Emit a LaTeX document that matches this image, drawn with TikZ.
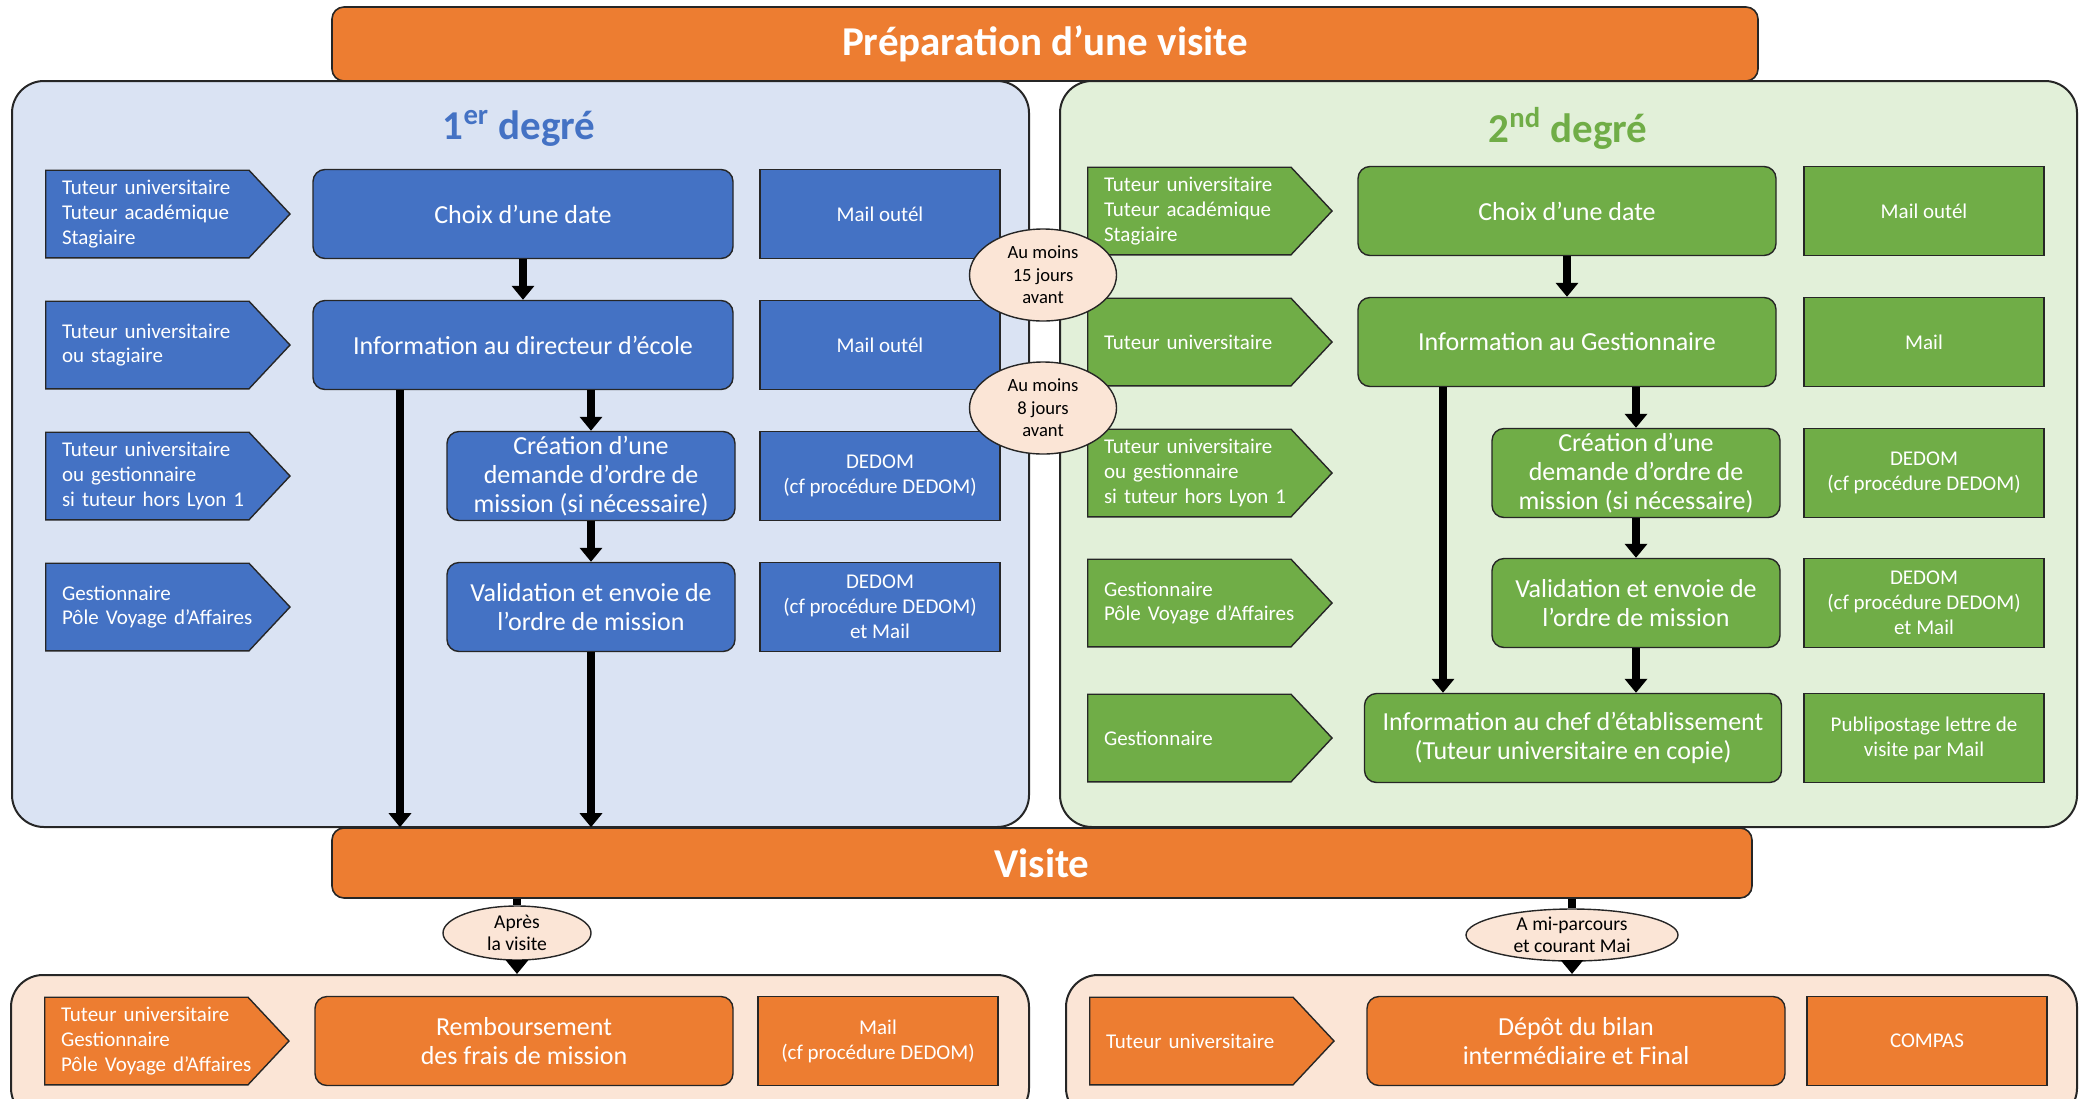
\documentclass[tikz,border=0pt]{standalone}
\usepackage{fontspec}
\setmainfont{Carlito}
\usetikzlibrary{arrows.meta,shapes.geometric,positioning}

\definecolor{blueA}{HTML}{4472C4}
\definecolor{greenA}{HTML}{70AD47}
\definecolor{orangeA}{HTML}{ED7D31}
\definecolor{bluePanel}{HTML}{DAE3F3}
\definecolor{greenPanel}{HTML}{E2F0D9}
\definecolor{peach}{HTML}{FBE5D6}
\definecolor{edge}{HTML}{262626}

\begin{document}
\begin{tikzpicture}[x=0.5pt, y=-0.5pt,
    panel/.style={draw=edge, fill=#1, line width=1pt, rounded corners=16pt, inner sep=0pt},
    bar/.style={draw=edge, fill=orangeA, line width=.8pt, rounded corners=6pt, text=white,
                font=\fontsize{20.5}{24}\selectfont\bfseries},
    task/.style={draw=edge, fill=#1, line width=.7pt, rounded corners=6pt, minimum height=44.5pt,
                 inner ysep=1pt, text=white, align=center, font=\fontsize{13}{14.5}\selectfont},
    tool/.style={draw=edge, fill=#1, line width=.7pt, minimum width=120pt, minimum height=44.5pt,
                 text=white, align=center, font=\fontsize{10.5}{12.5}\selectfont},
    actor/.style={minimum width=123pt, minimum height=44.5pt, text width=106pt, inner xsep=8.5pt,
                  align=left, text=white, font=\fontsize{10.5}{12.3}\selectfont,
                  path picture={\filldraw[fill=#1, draw=edge, line width=.7pt]
                    ([shift={(.35pt,-.35pt)}]path picture bounding box.north west)
                    -- ([shift={(-21pt,-.35pt)}]path picture bounding box.north east)
                    -- ([xshift=-.5pt]path picture bounding box.east)
                    -- ([shift={(-21pt,.35pt)}]path picture bounding box.south east)
                    -- ([shift={(.35pt,.35pt)}]path picture bounding box.south west) -- cycle;}},
    delay/.style={ellipse, draw=edge, fill=peach, line width=.7pt, inner sep=0pt, align=center,
                  font=\fontsize{9.3}{11.2}\selectfont},
    flow/.style={line width=4pt, -{Triangle[width=11pt,length=7pt]}}]
  \useasboundingbox (0,0) rectangle (2080,1098);

  \node[panel=bluePanel, minimum width=508.5pt, minimum height=373pt] (deg1) at (520.5,454) {};
  \node[panel=greenPanel, minimum width=508.5pt, minimum height=373pt] (deg2) at (1568.5,454) {};
  \node[panel=peach, minimum width=509pt, minimum height=72.5pt] (after1) at (520,1047.5) {};
  \node[panel=peach, minimum width=505.5pt, minimum height=72.5pt] (after2) at (1571.5,1047.5) {};

  \node[bar, minimum width=713pt, minimum height=37pt] (prep) at (1045,44) {Préparation d’une visite};
  \node[bar, minimum width=710pt, minimum height=35pt] (visite) at (1042,863) {Visite};

  \node[font=\fontsize{20.5}{24}\selectfont\bfseries, text=blueA] (title1) at (519,128) {1\textsuperscript{er} degré};
  \node[font=\fontsize{20.5}{24}\selectfont\bfseries, text=greenA] (title2) at (1568,128) {2\textsuperscript{nd} degré};

  % 1er degre
  \node[actor=blueA] (who11) at (168,214) {Tuteur universitaire\\Tuteur académique\\Stagiaire};
  \node[task=blueA, minimum width=210pt] (choix1) at (523,214) {Choix d’une date};
  \node[tool=blueA] (how11) at (880,214) {Mail outél};
  \node[actor=blueA] (who12) at (168,345) {Tuteur universitaire\\ou stagiaire};
  \node[task=blueA, minimum width=210pt] (info1) at (523,345) {Information au directeur d’école};
  \node[tool=blueA] (how12) at (880,345) {Mail outél};
  \node[actor=blueA] (who13) at (168,476) {Tuteur universitaire\\ou gestionnaire\\si tuteur hors Lyon 1};
  \node[task=blueA, minimum width=144pt] (crea1) at (591,476) {Création d’une\\demande d’ordre de\\mission (si nécessaire)};
  \node[tool=blueA] (how13) at (880,476) {DEDOM\\(cf procédure DEDOM)};
  \node[actor=blueA] (who14) at (168,607) {Gestionnaire\\Pôle Voyage d’Affaires};
  \node[task=blueA, minimum width=144pt] (valid1) at (591,607) {Validation et envoie de\\l’ordre de mission};
  \node[tool=blueA] (how14) at (880,607) {DEDOM\\(cf procédure DEDOM)\\et Mail};

  % 2nd degre
  \node[actor=greenA] (who21) at (1210,211) {Tuteur universitaire\\Tuteur académique\\Stagiaire};
  \node[task=greenA, minimum width=209pt] (choix2) at (1567,211) {Choix d’une date};
  \node[tool=greenA] (how21) at (1924,211) {Mail outél};
  \node[actor=greenA] (who22) at (1210,342) {Tuteur universitaire};
  \node[task=greenA, minimum width=209pt] (info2) at (1567,342) {Information au Gestionnaire};
  \node[tool=greenA] (how22) at (1924,342) {Mail};
  \node[actor=greenA] (who23) at (1210,473) {Tuteur universitaire\\ou gestionnaire\\si tuteur hors Lyon 1};
  \node[task=greenA, minimum width=144pt] (crea2) at (1636,473) {Création d’une\\demande d’ordre de\\mission (si nécessaire)};
  \node[tool=greenA] (how23) at (1924,473) {DEDOM\\(cf procédure DEDOM)};
  \node[actor=greenA] (who24) at (1210,603) {Gestionnaire\\Pôle Voyage d’Affaires};
  \node[task=greenA, minimum width=144pt] (valid2) at (1636,603) {Validation et envoie de\\l’ordre de mission};
  \node[tool=greenA] (how24) at (1924,603) {DEDOM\\(cf procédure DEDOM)\\et Mail};
  \node[actor=greenA] (who25) at (1210,738) {Gestionnaire};
  \node[task=greenA, minimum width=208.5pt] (chef) at (1573,738) {Information au chef d’établissement\\(Tuteur universitaire en copie)};
  \node[tool=greenA] (how25) at (1924,738) {Publipostage lettre de\\visite par Mail};

  % apres la visite
  \node[actor=orangeA] (who31) at (167,1041) {Tuteur universitaire\\Gestionnaire\\Pôle Voyage d’Affaires};
  \node[task=orangeA, minimum width=209pt] (rembours) at (524,1041) {Remboursement\\des frais de mission};
  \node[tool=orangeA] (how31) at (878,1041) {Mail\\(cf procédure DEDOM)};
  \node[actor=orangeA] (who32) at (1212,1041) {Tuteur universitaire};
  \node[task=orangeA, minimum width=209pt] (bilan) at (1576,1041) {Dépôt du bilan\\intermédiaire et Final};
  \node[tool=orangeA] (how32) at (1927,1041) {COMPAS};

  \draw[flow] (choix1) -- (info1);
  \draw[flow] (info1.south -| crea1.north) -- (crea1.north);
  \draw[flow] (crea1) -- (valid1);
  \draw[flow] (valid1.south) -- (valid1.south |- visite.north);
  \draw[flow] ([xshift=-61.5pt]info1.south) -- ([xshift=-61.5pt]info1.south |- visite.north);

  \draw[flow] (choix2) -- (info2);
  \draw[flow] (info2.south -| crea2.north) -- (crea2.north);
  \draw[flow] (crea2) -- (valid2);
  \draw[flow] (valid2.south) -- (valid2.south |- chef.north);
  \draw[flow] ([xshift=-62pt]info2.south) -- ([xshift=-62pt]info2.south |- chef.north);

  \node[delay, minimum width=73.5pt, minimum height=46pt] (delay15) at (1043,275) {Au moins\\15 jours\\avant};
  \node[delay, minimum width=73.5pt, minimum height=46pt] (delay8) at (1043,408) {Au moins\\8 jours\\avant};
  \node[delay, minimum width=74pt, minimum height=27pt, inner sep=-2pt, font=\fontsize{9.8}{10.8}\selectfont] (apres) at (517,933) {Après\\la visite};
  \node[delay, minimum width=106pt, minimum height=26pt, inner sep=-2pt, font=\fontsize{9.8}{10.8}\selectfont] (miparcours) at (1572,935) {A mi-parcours\\et courant Mai};

  \draw[line width=4pt] (visite.south -| apres) -- (apres.north);
  \draw[flow] (apres.south) -- (apres.south |- after1.north);
  \draw[line width=4pt] (visite.south -| miparcours) -- (miparcours.north);
  \draw[flow] (miparcours.south) -- (miparcours.south |- after2.north);
\end{tikzpicture}
\end{document}
